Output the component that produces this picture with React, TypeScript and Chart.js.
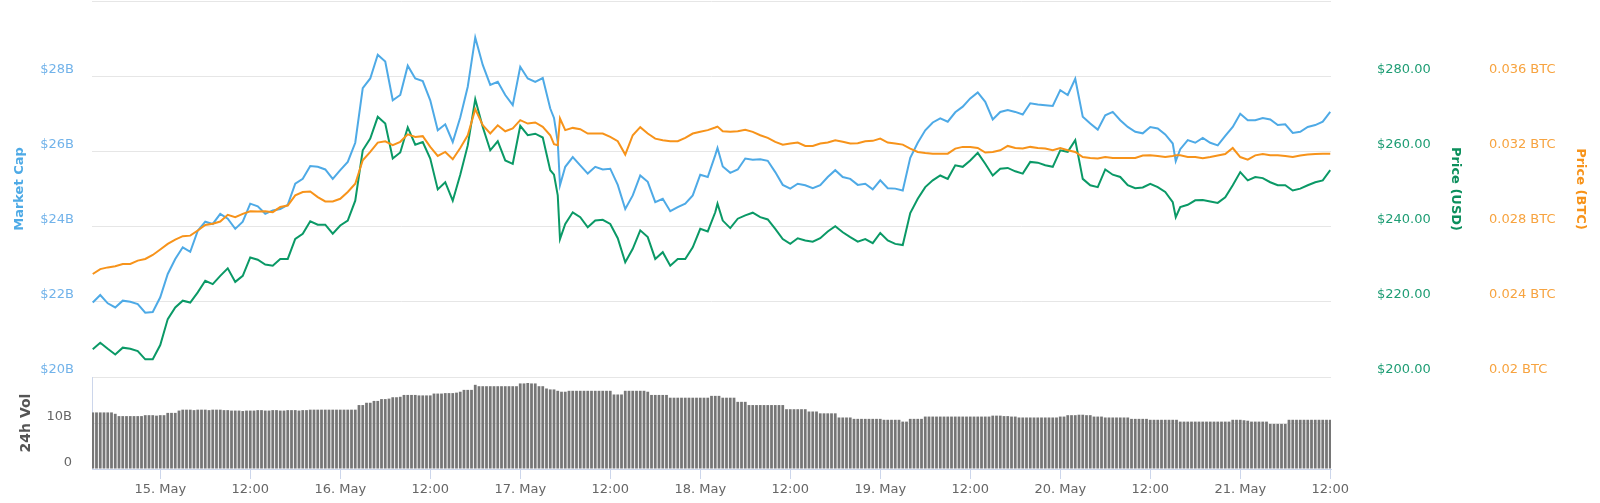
import React, { useEffect, useRef } from 'react';
import { Chart, registerables } from 'chart.js';

Chart.register(...registerables);

// Time axis: hours since 15 May 00:00
const HOURS = [
  -9, -8, -7, -6, -5, -4, -3, -2, -1, 0,
  1, 2, 3, 4, 5, 6, 7, 8, 9, 10,
  11, 12, 13, 14, 15, 16, 17, 18, 19, 20,
  21, 22, 23, 24, 25, 26, 27, 28, 29, 30,
  31, 32, 33, 34, 35, 36, 37, 38, 39, 40,
  41, 42, 43, 44, 45, 46, 47, 48, 49, 50,
  51, 52, 52.5, 53, 53.3, 54, 55, 56, 57, 58,
  59, 60, 61, 62, 63, 64, 65, 66, 67, 68,
  69, 70, 71, 72, 73, 74, 74.3, 75, 76, 77,
  78, 79, 80, 81, 82, 83, 84, 85, 86, 87,
  88, 89, 90, 91, 92, 93, 94, 95, 96, 97,
  98, 99, 100, 101, 102, 103, 104, 105, 106, 107,
  108, 109, 110, 111, 112, 113, 114, 115, 116, 117,
  118, 119, 120, 121, 122, 123, 124, 125, 126, 127,
  128, 129, 130, 131, 132, 133, 134, 135, 135.4, 136,
  137, 138, 139, 140, 141, 142, 143, 144, 145, 146,
  147, 148, 149, 150, 151, 152, 153, 154, 155, 156,
];

// Market cap in billions USD
const MARKET_CAP_B = [
  21.98, 22.18, 21.96, 21.85, 22.03, 22.0, 21.94, 21.71, 21.73, 22.12,
  22.74, 23.14, 23.45, 23.33, 23.89, 24.13, 24.07, 24.34, 24.21, 23.94,
  24.13, 24.61, 24.54, 24.34, 24.43, 24.47, 24.58, 25.14, 25.27, 25.61,
  25.59, 25.52, 25.27, 25.5, 25.72, 26.23, 27.68, 27.94, 28.57, 28.39,
  27.36, 27.5, 28.28, 27.94, 27.87, 27.36, 26.56, 26.72, 26.25, 26.9,
  27.72, 29.03, 28.3, 27.77, 27.85, 27.5, 27.23, 28.25, 27.94, 27.85,
  27.95, 27.14, 26.89, 26.25, 25.1, 25.59, 25.85, 25.63, 25.41, 25.59,
  25.52, 25.54, 25.11, 24.47, 24.83, 25.36, 25.19, 24.65, 24.74, 24.41,
  24.52, 24.61, 24.83, 25.38, 25.32, 25.9, 26.09, 25.6, 25.43, 25.52,
  25.81, 25.78, 25.79, 25.75, 25.45, 25.11, 25.01, 25.14, 25.1, 25.02,
  25.1, 25.32, 25.5, 25.32, 25.27, 25.11, 25.14, 24.99, 25.23, 25.02,
  25.01, 24.96, 25.83, 26.23, 26.56, 26.77, 26.88, 26.79, 27.04, 27.19,
  27.41, 27.57, 27.32, 26.85, 27.05, 27.1, 27.05, 26.98, 27.28, 27.25,
  27.23, 27.21, 27.63, 27.5, 27.93, 26.92, 26.74, 26.58, 26.96, 27.05,
  26.83, 26.65, 26.52, 26.48, 26.65, 26.61, 26.45, 26.21, 25.74, 26.06,
  26.3, 26.23, 26.36, 26.23, 26.16, 26.41, 26.65, 27.0, 26.83, 26.83,
  26.89, 26.85, 26.7, 26.72, 26.49, 26.52, 26.65, 26.7, 26.79, 27.05,
];

// Price in USD
const PRICE_USD = [
  207.4, 209.1, 207.5, 206.0, 207.8, 207.5, 206.9, 204.7, 204.7, 208.5,
  215.4, 218.5, 220.3, 219.8, 222.5, 225.6, 224.7, 226.9, 228.9, 225.3,
  226.9, 231.8, 231.2, 229.9, 229.6, 231.4, 231.4, 236.7, 238.1, 241.4,
  240.5, 240.5, 238.1, 240.3, 241.6, 246.9, 260.3, 263.4, 269.2, 267.4,
  258.1, 259.7, 266.4, 261.8, 262.5, 258.1, 249.9, 251.8, 246.9, 253.8,
  261.6, 273.9, 266.5, 260.3, 262.7, 257.6, 256.7, 266.8, 264.3, 264.7,
  263.7, 255.0, 253.8, 248.3, 236.7, 240.7, 243.8, 242.5, 239.8, 241.6,
  241.8, 240.7, 236.9, 230.5, 234.1, 239.0, 237.2, 231.4, 233.2, 229.6,
  231.4, 231.4, 234.5, 239.4, 238.7, 243.8, 246.1, 241.6, 239.6, 242.1,
  243.0, 243.7, 242.5, 241.9, 239.4, 236.7, 235.4, 236.9, 236.3, 236.0,
  236.9, 238.7, 240.1, 238.5, 237.2, 236.0, 236.7, 235.6, 238.3, 236.3,
  235.4, 235.1, 243.6, 247.4, 250.5, 252.3, 253.6, 252.7, 256.3, 255.9,
  257.6, 259.6, 256.7, 253.6, 255.4, 255.6, 254.7, 254.1, 257.2, 257.0,
  256.3, 255.9, 260.3, 259.9, 263.0, 252.7, 251.0, 250.5, 255.2, 253.8,
  253.2, 251.0, 250.2, 250.4, 251.4, 250.5, 249.2, 246.5, 242.5, 245.2,
  245.8, 247.0, 247.1, 246.7, 246.3, 247.8, 251.0, 254.5, 252.3, 253.2,
  252.9, 251.8, 251.0, 251.0, 249.6, 250.1, 251.0, 251.8, 252.3, 255.0,
];

// Price in BTC
const PRICE_BTC = [
  0.02548, 0.02574, 0.02583, 0.02589, 0.02601, 0.02601, 0.02619, 0.02628, 0.02649, 0.02678,
  0.02708, 0.02731, 0.02749, 0.02752, 0.02779, 0.02809, 0.02815, 0.02827, 0.02863, 0.0285,
  0.02868, 0.02882, 0.0288, 0.02882, 0.02877, 0.02904, 0.02912, 0.02966, 0.02984, 0.02987,
  0.02957, 0.02934, 0.02934, 0.02948, 0.02984, 0.03028, 0.03153, 0.03197, 0.03247, 0.03254,
  0.03233, 0.03251, 0.03291, 0.03277, 0.03281, 0.03224, 0.03176, 0.03197, 0.03158, 0.03218,
  0.03286, 0.03425, 0.03339, 0.03295, 0.03339, 0.03307, 0.03322, 0.03366, 0.03348, 0.03354,
  0.03331, 0.03286, 0.03238, 0.03233, 0.03375, 0.03313, 0.03325, 0.03318, 0.03295, 0.03295,
  0.03295, 0.03277, 0.03254, 0.03183, 0.03286, 0.03329, 0.03295, 0.03268, 0.03259, 0.03254,
  0.03254, 0.03272, 0.03295, 0.03304, 0.03313, 0.03327, 0.03332, 0.03307, 0.03304, 0.03307,
  0.03315, 0.03304, 0.03286, 0.03272, 0.03251, 0.03236, 0.03242, 0.03247, 0.03229, 0.03229,
  0.03242, 0.03247, 0.03259, 0.03251, 0.03242, 0.03243, 0.03254, 0.03256, 0.03268, 0.03247,
  0.03242, 0.03236, 0.03215, 0.03197, 0.03192, 0.03188, 0.03188, 0.03188, 0.03215, 0.03224,
  0.03224, 0.03218, 0.03194, 0.03197, 0.03206, 0.03229, 0.03218, 0.03215, 0.03224, 0.03218,
  0.03215, 0.03206, 0.03218, 0.03206, 0.03197, 0.0317, 0.03165, 0.03162, 0.0317, 0.03165,
  0.03165, 0.03165, 0.03165, 0.03178, 0.03179, 0.03176, 0.0317, 0.03176, 0.03179, 0.03179,
  0.0317, 0.0317, 0.03163, 0.0317, 0.03178, 0.03186, 0.03218, 0.0317, 0.03156, 0.03179,
  0.03186, 0.03179, 0.03179, 0.03176, 0.0317, 0.03178, 0.03183, 0.03186, 0.03188, 0.03188,
];

// 24h volume (billions USD), one bar every half hour starting at hour -9
const VOL_START_HOUR = -9;
const VOL_STEP_HOURS = 0.5;
const VOLUME_24H_B = [
  12.3, 12.3, 12.3, 12.3, 12.3, 12.3, 12.0, 11.5, 11.5, 11.5,
  11.5, 11.5, 11.5, 11.5, 11.7, 11.7, 11.7, 11.6, 11.7, 11.7,
  12.2, 12.2, 12.2, 12.7, 12.9, 12.9, 12.9, 12.8, 12.9, 12.9,
  12.9, 12.8, 12.9, 12.9, 12.9, 12.8, 12.8, 12.7, 12.7, 12.7,
  12.6, 12.7, 12.7, 12.7, 12.8, 12.8, 12.7, 12.7, 12.8, 12.8,
  12.7, 12.7, 12.8, 12.8, 12.8, 12.7, 12.8, 12.8, 12.9, 12.9,
  12.9, 12.9, 12.9, 12.9, 12.9, 12.9, 12.9, 12.9, 12.9, 12.9,
  12.9, 13.9, 13.9, 14.4, 14.4, 14.8, 14.8, 15.2, 15.2, 15.3,
  15.6, 15.6, 15.7, 16.1, 16.1, 16.1, 16.1, 16.0, 16.0, 16.0,
  16.0, 16.4, 16.4, 16.4, 16.5, 16.5, 16.5, 16.6, 16.8, 17.2,
  17.2, 17.2, 18.3, 18.0, 18.0, 18.0, 18.0, 18.0, 18.0, 18.0,
  18.0, 18.0, 18.0, 18.0, 18.6, 18.6, 18.7, 18.6, 18.6, 18.0,
  18.0, 17.5, 17.3, 17.3, 17.0, 16.8, 16.8, 17.0, 17.0, 17.0,
  17.0, 17.0, 17.0, 17.0, 17.0, 17.0, 17.0, 17.0, 17.0, 16.2,
  16.2, 16.2, 17.0, 17.0, 17.0, 17.0, 17.0, 17.0, 16.8, 16.1,
  16.1, 16.1, 16.1, 16.1, 15.5, 15.5, 15.5, 15.5, 15.5, 15.5,
  15.5, 15.5, 15.5, 15.5, 15.5, 15.9, 15.9, 15.9, 15.5, 15.5,
  15.5, 15.5, 14.6, 14.6, 14.6, 13.9, 13.9, 13.9, 13.9, 13.9,
  13.9, 13.9, 13.9, 13.9, 13.9, 13.0, 13.0, 13.0, 13.0, 13.0,
  13.0, 12.5, 12.5, 12.5, 12.1, 12.1, 12.1, 12.1, 12.1, 11.2,
  11.2, 11.2, 11.2, 10.9, 10.9, 10.9, 10.9, 10.9, 10.9, 10.9,
  10.9, 10.7, 10.7, 10.7, 10.7, 10.7, 10.3, 10.3, 10.9, 10.9,
  10.9, 10.9, 11.4, 11.4, 11.4, 11.4, 11.4, 11.4, 11.4, 11.4,
  11.4, 11.4, 11.4, 11.4, 11.4, 11.4, 11.4, 11.4, 11.4, 11.4,
  11.6, 11.6, 11.6, 11.5, 11.5, 11.4, 11.4, 11.2, 11.2, 11.2,
  11.2, 11.2, 11.2, 11.2, 11.2, 11.2, 11.2, 11.2, 11.4, 11.4,
  11.7, 11.7, 11.7, 11.8, 11.8, 11.7, 11.7, 11.4, 11.4, 11.4,
  11.2, 11.2, 11.2, 11.2, 11.2, 11.2, 11.2, 10.9, 10.9, 10.9,
  10.9, 10.9, 10.7, 10.7, 10.7, 10.7, 10.7, 10.7, 10.7, 10.7,
  10.3, 10.3, 10.3, 10.3, 10.3, 10.3, 10.3, 10.3, 10.3, 10.3,
  10.3, 10.3, 10.3, 10.3, 10.7, 10.7, 10.7, 10.6, 10.5, 10.3,
  10.3, 10.3, 10.3, 10.3, 9.8, 9.8, 9.8, 9.8, 9.8, 10.7,
  10.7, 10.7, 10.7, 10.7, 10.7, 10.7, 10.7, 10.7, 10.7, 10.7, 10.7,
];

const X_MIN = -9.1;
const X_MAX = 156.1;
const X_TICKS = [0, 12, 24, 36, 48, 60, 72, 84, 96, 108, 120, 132, 144, 156];
const DAY_LABELS = ['15. May', '16. May', '17. May', '18. May', '19. May', '20. May', '21. May'];
const CAP_TICKS = [20, 22, 24, 26, 28, 30];
const USD_TICKS = [200, 220, 240, 260, 280, 300];
const BTC_TICKS = [0.02, 0.024, 0.028, 0.032, 0.036, 0.04];
const VOL_TICKS = [0, 10, 20];

const BLUE = '#4eaae6';
const BLUE_LABEL = '#72b3ea';
const GREEN = '#0a9966';
const GREEN_LABEL = '#1e9d74';
const GREEN_TITLE = '#0b8f5c';
const ORANGE = '#f7931a';
const ORANGE_LABEL = '#f7a33f';
const FONT = "'DejaVu Sans', Verdana, sans-serif";

function xLabel(h: number): string {
  return h % 24 === 0 ? DAY_LABELS[h / 24] : '12:00';
}

function fixWidth(w: number) {
  return (s: any) => {
    s.width = w;
    s.paddingTop = 0;
    s.paddingBottom = 0;
  };
}

function setTicks(list: number[]) {
  return (s: any) => {
    s.ticks = list.map((v) => ({ value: v }));
  };
}

export default function App() {
  const mainRef = useRef<HTMLCanvasElement>(null);
  const volRef = useRef<HTMLCanvasElement>(null);

  useEffect(() => {
    document.body.style.margin = '0';
    Chart.defaults.font.family = FONT;

    const line = (vals: number[]) => HOURS.map((h, i) => ({ x: h, y: vals[i] }));

    const main = new Chart(mainRef.current as HTMLCanvasElement, {
      type: 'line',
      data: {
        datasets: [
          {
            label: 'Price (BTC)',
            data: line(PRICE_BTC),
            yAxisID: 'yBtc',
            borderColor: ORANGE,
            borderWidth: 2,
            pointRadius: 0,
            tension: 0,
            fill: false,
          },
          {
            label: 'Price (USD)',
            data: line(PRICE_USD),
            yAxisID: 'yUsd',
            borderColor: GREEN,
            borderWidth: 2,
            pointRadius: 0,
            tension: 0,
            fill: false,
          },
          {
            label: 'Market Cap',
            data: line(MARKET_CAP_B),
            yAxisID: 'yCap',
            borderColor: BLUE,
            borderWidth: 2,
            pointRadius: 0,
            tension: 0,
            fill: false,
          },
        ],
      },
      options: {
        responsive: false,
        animation: false,
        events: [],
        layout: { padding: { top: 1, bottom: 3, left: 0, right: 0 } },
        plugins: { legend: { display: false }, tooltip: { enabled: false } },
        scales: {
          x: { type: 'linear', min: X_MIN, max: X_MAX, display: false },
          yCap: {
            type: 'linear',
            position: 'left',
            min: 20,
            max: 30,
            afterBuildTicks: setTicks(CAP_TICKS),
            afterFit: fixWidth(92),
            grid: { color: '#e6e6e6', drawTicks: false, lineWidth: 1 },
            border: { display: false },
            ticks: {
              padding: 18,
              labelOffset: -7,
              color: BLUE_LABEL,
              font: { size: 13 },
              callback: (v: any) => (v >= 30 ? '' : '$' + v + 'B'),
            },
            title: {
              display: true,
              text: 'Market Cap',
              color: BLUE,
              font: { size: 13, weight: 'bold' },
              padding: { top: 12, bottom: 0 },
            },
          },
          yUsd: {
            type: 'linear',
            position: 'right',
            min: 200,
            max: 300,
            afterBuildTicks: setTicks(USD_TICKS),
            afterFit: fixWidth(144),
            grid: { display: false, drawTicks: false },
            border: { display: false },
            ticks: {
              padding: 46,
              labelOffset: -7,
              color: GREEN_LABEL,
              font: { size: 13 },
              callback: (v: any) => (v >= 300 ? '' : '$' + Number(v).toFixed(2)),
            },
            title: {
              display: true,
              text: 'Price (USD)',
              color: GREEN_TITLE,
              font: { size: 13, weight: 'bold' },
              padding: { top: 12, bottom: 0 },
            },
          },
          yBtc: {
            type: 'linear',
            position: 'right',
            min: 0.02,
            max: 0.04,
            afterBuildTicks: setTicks(BTC_TICKS),
            afterFit: fixWidth(125),
            grid: { display: false, drawTicks: false },
            border: { display: false },
            ticks: {
              padding: 14,
              labelOffset: -7,
              color: ORANGE_LABEL,
              font: { size: 13 },
              callback: (v: any) => (v >= 0.0399 ? '' : Math.round(v * 1000) / 1000 + ' BTC'),
            },
            title: {
              display: true,
              text: 'Price (BTC)',
              color: ORANGE,
              font: { size: 13, weight: 'bold' },
              padding: { top: 12, bottom: 0 },
            },
          },
        },
      } as any,
    });

    const vol = new Chart(volRef.current as HTMLCanvasElement, {
      type: 'bar',
      data: {
        datasets: [
          {
            label: '24h Vol',
            data: VOLUME_24H_B.map((v, j) => ({ x: VOL_START_HOUR + j * VOL_STEP_HOURS, y: v })),
            backgroundColor: '#767676',
            borderWidth: 0,
            barPercentage: 1,
            categoryPercentage: 0.74,
          },
        ],
      },
      options: {
        responsive: false,
        animation: false,
        events: [],
        layout: { padding: { top: 17, bottom: 4, left: 0, right: 269 } },
        plugins: { legend: { display: false }, tooltip: { enabled: false } },
        scales: {
          x: {
            type: 'linear',
            min: X_MIN,
            max: X_MAX,
            offset: false,
            afterBuildTicks: setTicks(X_TICKS),
            afterFit: (s: any) => {
              s.height = 30;
              s.paddingLeft = 0;
              s.paddingRight = 0;
            },
            grid: {
              offset: false,
              drawOnChartArea: false,
              drawTicks: true,
              tickLength: 10,
              tickColor: '#ccd6eb',
              color: '#ccd6eb',
            },
            border: { display: true, color: '#ccd6eb' },
            ticks: {
              padding: 3,
              color: '#666666',
              font: { size: 13 },
              maxRotation: 0,
              autoSkip: false,
              callback: (v: any) => xLabel(Number(v)),
            },
          },
          y: {
            type: 'linear',
            position: 'left',
            min: 0,
            max: 20,
            afterBuildTicks: setTicks(VOL_TICKS),
            afterFit: fixWidth(92),
            grid: { color: '#e6e6e6', drawTicks: false },
            border: { display: true, color: '#ccd6eb' },
            ticks: {
              padding: 20,
              labelOffset: -6.5,
              color: '#666666',
              font: { size: 13 },
              callback: (v: any) => (v === 0 ? '0' : v === 10 ? '10B' : ''),
            },
            title: {
              display: true,
              text: '24h Vol',
              color: '#555555',
              font: { size: 14, weight: 'bold' },
              padding: { top: 18, bottom: 0 },
            },
          },
        },
      } as any,
    });

    return () => {
      main.destroy();
      vol.destroy();
    };
  }, []);

  return (
    <div style={{ position: 'absolute', left: 0, top: 0, width: 1600, height: 503, background: '#ffffff', overflow: 'hidden' }}>
      <canvas
        ref={mainRef}
        width={1600}
        height={380}
        style={{ position: 'absolute', left: 0, top: 0, width: 1600, height: 380 }}
      />
      <canvas
        ref={volRef}
        width={1600}
        height={143}
        style={{ position: 'absolute', left: 0, top: 360, width: 1600, height: 143 }}
      />
    </div>
  );
}
